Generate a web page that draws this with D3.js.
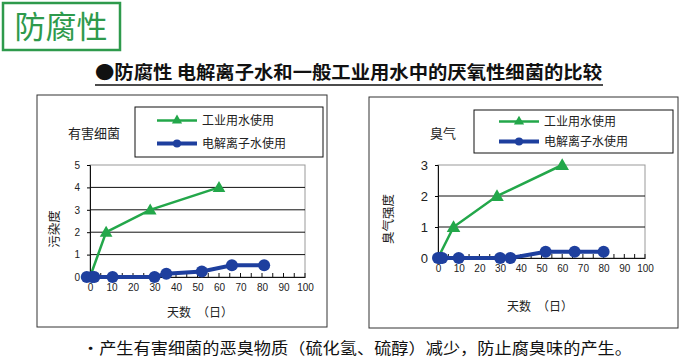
<!DOCTYPE html>
<html><head><meta charset="utf-8">
<script src="https://cdn.jsdelivr.net/npm/d3@7"></script>
<style>
html,body{margin:0;padding:0;background:#fff;}
svg{display:block;font-family:"Noto Sans CJK SC","Noto Sans",sans-serif;}
</style></head>
<body>
<svg id="c" width="690" height="360"></svg>
<script>
const xTicks = [0,10,20,30,40,50,60,70,80,90,100];
// Chart 1: harmful bacteria (污染度)
const bactIndustrial = [[0,0],[7.5,2],[28,3],[60,4]];
const bactIonized = [[-1.5,0],[1,0],[2,0],[10.5,0],[30,0],[35.5,0.15],[52,0.25],[66,0.52],[81,0.52]];
const bactYTicks = [0,1,2,3,4,5];
// Chart 2: odor (臭气强度)
const odorIndustrial = [[0,0],[7.5,1],[28.5,2],[60,3]];
const odorIonized = [[0,0],[1,0],[2,0],[10,0],[30,0],[35,0],[52,0.2],[66,0.2],[80,0.2]];
const odorYTicks = [0,1,2,3];
const seriesNames = ["工业用水使用","电解离子水使用"];
const GREEN = "#23a74a", BLUE = "#1e3f9e";

const svg = d3.select("#c");

// title box
svg.append("rect").attr("x",3).attr("y",3).attr("width",117).attr("height",47)
  .attr("fill","#fff").attr("stroke","#2e9a4c").attr("stroke-width",2.5);
svg.append("text").attr("x",61).attr("y",38).attr("text-anchor","middle")
  .attr("font-size",31).attr("fill","#2e9a4c").text("防腐性");
// subtitle
svg.append("text").attr("x",95).attr("y",79)
  .attr("font-size",18).attr("font-weight","bold").attr("fill","#111")
  .attr("textLength",507).attr("lengthAdjust","spacingAndGlyphs")
  .text("●防腐性 电解离子水和一般工业用水中的厌氧性细菌的比较");
svg.append("line").attr("x1",95).attr("x2",603).attr("y1",85).attr("y2",85)
  .attr("stroke","#111").attr("stroke-width",1.5);
// bottom note
svg.append("text").attr("x",82).attr("y",354)
  .attr("font-size",15.5).attr("fill","#111")
  .attr("textLength",550).attr("lengthAdjust","spacingAndGlyphs")
  .text("•产生有害细菌的恶臭物质（硫化氢、硫醇）减少，防止腐臭味的产生。");

function chart(o){
  const g = svg.append("g");
  g.append("rect").attr("x",o.box[0]).attr("y",o.box[1]).attr("width",o.box[2]).attr("height",o.box[3])
    .attr("fill","#fff").attr("stroke","#333").attr("stroke-width",1);
  const x = d3.scaleLinear().domain([0,100]).range([o.px0,o.px1]);
  const y = d3.scaleLinear().domain([0,o.ymax]).range([o.py0,o.py1]);
  // plot frame
  g.append("rect").attr("x",o.px0).attr("y",o.py1).attr("width",o.px1-o.px0).attr("height",o.py0-o.py1)
    .attr("fill","none").attr("stroke","#999").attr("stroke-width",1);
  // horizontal grid
  g.selectAll(".gl").data(o.yTicks.filter(d=>d>0 && d<o.ymax)).enter().append("line")
    .attr("x1",o.px0).attr("x2",o.px1).attr("y1",d=>y(d)).attr("y2",d=>y(d))
    .attr("stroke","#111").attr("stroke-width",1);
  // y axis
  const ya = g.append("g").attr("transform",`translate(${o.px0},0)`)
    .call(d3.axisLeft(y).tickValues(o.yTicks).tickSize(3).tickFormat(d3.format("d")));
  ya.select(".domain").attr("stroke","#111");
  ya.selectAll("text").attr("font-size",o.yfs).attr("font-family","Liberation Sans, Arial, sans-serif").attr("fill","#222").attr("dx",-4);
  // x axis
  const xa = g.append("g").attr("transform",`translate(0,${o.py0})`)
    .call(d3.axisBottom(x).tickValues(xTicks).tickSize(0).tickFormat(d3.format("d")));
  xa.select(".domain").attr("stroke","#111");
  xa.selectAll("text").attr("font-size",10).attr("font-family","Liberation Sans, Arial, sans-serif").attr("fill","#222").attr("dy","1.1em");
  g.selectAll(".mt").data(d3.range(5,101,5)).enter().append("line")
    .attr("x1",d=>x(d)).attr("x2",d=>x(d)).attr("y1",o.py0).attr("y2",o.py0-4)
    .attr("stroke","#111").attr("stroke-width",1);
  // titles
  g.append("text").attr("x",o.title[0]).attr("y",o.title[1]).attr("font-size",13).attr("fill","#222").text(o.titleText);
  g.append("text").attr("transform",`translate(${o.ylab[0]},${o.ylab[1]}) rotate(-90)`)
    .attr("text-anchor","middle").attr("font-size",12.5).attr("fill","#222").text(o.ylabText);
  g.append("text").attr("x",o.xlab[0]).attr("y",o.xlab[1]).attr("text-anchor","middle")
    .attr("font-size",12).attr("fill","#222").text("天数　（日）");
  // lines
  const line = d3.line().x(d=>x(d[0])).y(d=>y(d[1]));
  g.append("path").datum(o.green).attr("d",line).attr("fill","none").attr("stroke",GREEN).attr("stroke-width",2.5);
  g.append("path").datum(o.blue).attr("d",line).attr("fill","none").attr("stroke",BLUE).attr("stroke-width",4);
  const tri = d3.symbol().type(d3.symbolTriangle).size(o.triSize);
  g.selectAll(".tr").data(o.green.slice(1)).enter().append("path")
    .attr("d",tri).attr("transform",d=>`translate(${x(d[0])},${y(d[1])+1})`).attr("fill",GREEN);
  g.selectAll(".ci").data(o.blue).enter().append("circle")
    .attr("cx",d=>x(d[0])).attr("cy",d=>y(d[1])).attr("r",o.r).attr("fill",BLUE);
  // legend
  const L = o.legend;
  g.append("rect").attr("x",L[0]).attr("y",L[1]).attr("width",L[2]).attr("height",L[3])
    .attr("fill","#fff").attr("stroke","#111").attr("stroke-width",1);
  const ly = [L[1]+L[3]*0.27, L[1]+L[3]*0.73];
  const lx0 = L[0]+L[4], lx1 = lx0+40;
  g.append("line").attr("x1",lx0).attr("x2",lx1).attr("y1",ly[0]).attr("y2",ly[0]).attr("stroke",GREEN).attr("stroke-width",2.5);
  g.append("path").attr("d",d3.symbol().type(d3.symbolTriangle).size(45)).attr("transform",`translate(${(lx0+lx1)/2},${ly[0]})`).attr("fill",GREEN);
  g.append("line").attr("x1",lx0).attr("x2",lx1).attr("y1",ly[1]).attr("y2",ly[1]).attr("stroke",BLUE).attr("stroke-width",4);
  g.append("circle").attr("cx",(lx0+lx1)/2).attr("cy",ly[1]).attr("r",4).attr("fill",BLUE);
  seriesNames.forEach((n,i)=>{
    g.append("text").attr("x",lx1+5).attr("y",ly[i]+4.5).attr("font-size",12).attr("fill","#222").text(n);
  });
}

chart({box:[37,95,290,232], px0:90, px1:305, py0:277, py1:165, ymax:5, yTicks:bactYTicks, yfs:10,
  title:[68,138], titleText:"有害细菌", ylab:[59,229], ylabText:"污染度", xlab:[200,317],
  green:bactIndustrial, blue:bactIonized, triSize:70, r:6, legend:[135,107,188,50,22]});
chart({box:[369,97,309,231], px0:438, px1:645, py0:258, py1:165, ymax:3, yTicks:odorYTicks, yfs:13,
  title:[430,138], titleText:"臭气", ylab:[393,219], ylabText:"臭气强度", xlab:[540,311],
  green:odorIndustrial, blue:odorIonized, triSize:80, r:6, legend:[474,110,199,43,25]});
</script>
</body></html>
